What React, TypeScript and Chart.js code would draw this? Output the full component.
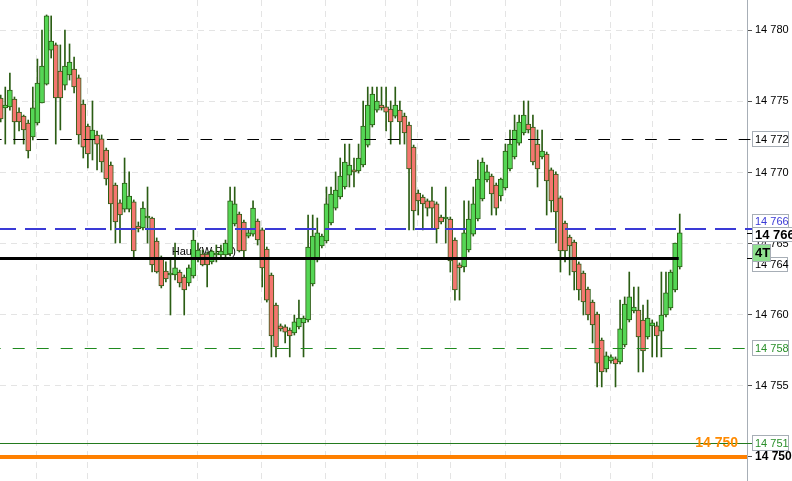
import React, { useEffect, useRef } from "react";
import { Chart, registerables } from "chart.js";

Chart.register(...registerables);

// ---- Data (prices) ----
const opens = [
  14775.24, 14774.54, 14774.61, 14775.17, 14774.25, 14773.97, 14773.48, 14772.50, 14773.48, 14774.89,
  14776.22, 14778.61, 14778.97, 14777.14, 14776.15, 14776.86, 14777.28, 14776.65, 14774.82, 14773.27,
  14772.29, 14772.64, 14772.36, 14771.58, 14770.53, 14769.12, 14767.86, 14767.43, 14767.43, 14767.93,
  14766.24, 14766.10, 14766.80, 14766.80, 14765.18, 14763.92, 14763.07, 14762.79, 14762.79, 14763.00,
  14762.65, 14762.23, 14762.72, 14763.92, 14764.27, 14764.27, 14763.71, 14764.20, 14764.20, 14764.20,
  14764.27, 14766.38, 14767.08, 14766.52, 14765.53, 14765.67, 14766.59, 14765.96, 14764.62, 14762.79,
  14760.68, 14759.21, 14759.14, 14758.92, 14758.71, 14759.14, 14759.42, 14759.63, 14762.16, 14763.85,
  14764.83, 14765.18, 14766.45, 14767.50, 14768.28, 14768.98, 14769.82, 14770.18, 14770.11, 14770.53,
  14771.93, 14773.34, 14774.39, 14774.75, 14774.61, 14774.46, 14773.97, 14774.39, 14773.97, 14773.34,
  14771.79, 14768.56, 14768.28, 14768.00, 14768.00, 14767.79, 14766.87, 14766.73, 14766.73, 14765.25,
  14763.50, 14763.36, 14764.55, 14765.67, 14766.73, 14768.14, 14769.47, 14769.75, 14769.12, 14768.35,
  14768.91, 14770.25, 14771.09, 14772.07, 14772.78, 14773.41, 14773.20, 14772.00, 14771.09, 14771.30,
  14770.18, 14769.89, 14768.21, 14766.45, 14765.46, 14765.11, 14763.57, 14762.93, 14761.81, 14760.89,
  14760.05, 14758.22, 14756.18, 14756.75, 14756.89, 14756.68, 14757.87, 14759.63, 14760.26, 14760.33,
  14759.63, 14758.43, 14759.21, 14759.21, 14758.85, 14759.98, 14760.47, 14761.74, 14763.36,
];

const highs = [
  14775.45, 14776.01, 14777.00, 14775.31, 14774.54, 14774.04, 14773.69, 14776.01, 14777.98, 14780.02,
  14781.08, 14781.01, 14779.11, 14778.97, 14780.02, 14779.04, 14778.12, 14776.86, 14775.10, 14773.41,
  14775.03, 14772.92, 14772.64, 14771.72, 14770.74, 14769.26, 14768.07, 14771.02, 14770.04, 14768.07,
  14766.52, 14767.93, 14768.98, 14766.87, 14765.40, 14764.13, 14763.71, 14763.92, 14765.04, 14763.14,
  14762.79, 14763.50, 14766.03, 14765.04, 14764.55, 14764.41, 14764.55, 14764.90, 14764.90, 14765.25,
  14768.98, 14768.98, 14767.22, 14766.66, 14765.96, 14768.00, 14766.73, 14766.10, 14764.76, 14762.93,
  14760.82, 14759.35, 14759.28, 14759.07, 14759.98, 14761.03, 14759.91, 14767.01, 14767.01, 14766.80,
  14765.67, 14768.98, 14768.98, 14770.04, 14771.02, 14772.00, 14772.00, 14771.02, 14772.00, 14775.03,
  14776.01, 14776.01, 14776.01, 14776.01, 14776.01, 14775.03, 14776.01, 14775.03, 14774.18, 14773.55,
  14771.93, 14768.77, 14768.42, 14768.14, 14768.98, 14767.93, 14767.01, 14768.98, 14766.87, 14765.40,
  14763.64, 14768.00, 14768.00, 14768.98, 14770.88, 14771.02, 14770.53, 14769.89, 14769.26, 14769.61,
  14772.00, 14772.99, 14774.04, 14774.04, 14775.03, 14775.03, 14774.04, 14772.99, 14772.99, 14771.44,
  14770.32, 14770.04, 14768.35, 14766.59, 14765.60, 14765.25, 14763.71, 14763.07, 14761.95, 14761.03,
  14760.19, 14758.36, 14757.38, 14757.17, 14757.03, 14761.03, 14761.25, 14763.00, 14761.95, 14761.95,
  14760.68, 14761.03, 14759.63, 14759.49, 14763.00, 14763.00, 14763.14, 14765.04, 14767.08,
];

const lows = [
  14773.55, 14772.00, 14774.39, 14772.00, 14772.92, 14772.00, 14771.02, 14772.29, 14773.34, 14774.89,
  14776.15, 14778.05, 14772.00, 14772.99, 14775.80, 14776.50, 14775.59, 14772.00, 14771.02, 14770.32,
  14770.88, 14770.18, 14770.04, 14769.12, 14765.96, 14765.04, 14765.04, 14767.22, 14767.22, 14764.06,
  14765.82, 14765.96, 14765.04, 14763.00, 14762.93, 14761.88, 14762.30, 14759.98, 14762.44, 14761.95,
  14759.98, 14762.02, 14762.58, 14763.71, 14763.43, 14761.95, 14763.57, 14763.71, 14763.99, 14763.99,
  14764.13, 14766.24, 14764.41, 14764.06, 14765.40, 14765.53, 14764.90, 14761.95, 14760.89, 14757.03,
  14757.03, 14758.85, 14758.01, 14757.03, 14758.57, 14759.00, 14757.03, 14759.49, 14762.02, 14763.71,
  14764.69, 14765.04, 14766.31, 14767.36, 14768.14, 14768.84, 14768.98, 14768.98, 14769.96, 14770.39,
  14771.79, 14773.20, 14774.25, 14774.39, 14772.92, 14772.00, 14773.83, 14772.00, 14772.00, 14765.96,
  14765.96, 14767.01, 14765.96, 14766.94, 14766.03, 14765.04, 14766.38, 14765.04, 14763.00, 14761.03,
  14761.03, 14763.00, 14764.41, 14765.53, 14766.59, 14768.00, 14769.33, 14767.01, 14767.01, 14768.00,
  14768.77, 14770.11, 14770.95, 14771.93, 14772.64, 14772.78, 14770.53, 14768.98, 14770.95, 14767.01,
  14767.22, 14765.04, 14763.00, 14763.71, 14762.79, 14761.74, 14761.03, 14759.98, 14759.63, 14758.01,
  14754.92, 14754.92, 14755.97, 14756.60, 14754.92, 14756.53, 14757.73, 14759.49, 14760.12, 14755.97,
  14755.97, 14758.29, 14757.03, 14757.03, 14757.03, 14759.84, 14760.33, 14761.60, 14763.21,
];

const closes = [
  14773.76, 14774.75, 14775.80, 14773.55, 14773.55, 14772.99, 14771.51, 14774.54, 14776.29, 14777.49,
  14781.01, 14779.25, 14775.24, 14775.24, 14777.49, 14777.77, 14776.01, 14772.64, 14771.79, 14771.30,
  14772.99, 14772.00, 14770.74, 14769.54, 14767.79, 14766.52, 14767.01, 14769.26, 14768.35, 14764.48,
  14766.03, 14767.50, 14766.80, 14763.50, 14763.00, 14762.02, 14762.51, 14762.79, 14763.29, 14762.23,
  14761.74, 14763.29, 14765.25, 14764.55, 14763.50, 14763.50, 14764.48, 14764.34, 14764.48, 14765.04,
  14768.00, 14767.79, 14764.48, 14764.48, 14765.75, 14767.50, 14765.25, 14763.29, 14761.03, 14758.50,
  14757.73, 14759.00, 14758.78, 14758.50, 14759.49, 14759.77, 14759.77, 14764.76, 14765.53, 14765.75,
  14765.53, 14767.79, 14768.49, 14768.77, 14769.75, 14770.74, 14770.53, 14770.04, 14771.02, 14773.27,
  14774.75, 14775.52, 14775.03, 14774.54, 14774.25, 14773.55, 14774.75, 14773.55, 14772.78, 14770.25,
  14767.29, 14768.00, 14767.79, 14767.50, 14767.50, 14766.03, 14766.52, 14766.73, 14763.78, 14761.74,
  14763.29, 14765.75, 14766.73, 14767.79, 14769.54, 14770.74, 14770.04, 14768.49, 14767.50, 14769.54,
  14771.51, 14772.00, 14772.99, 14773.55, 14774.04, 14772.99, 14770.74, 14770.25, 14771.51, 14769.40,
  14768.00, 14767.22, 14764.48, 14764.48, 14764.83, 14763.00, 14761.74, 14760.89, 14759.98, 14759.28,
  14756.60, 14755.97, 14757.10, 14757.03, 14756.53, 14759.00, 14760.75, 14761.25, 14760.54, 14758.43,
  14757.45, 14759.77, 14759.42, 14758.50, 14759.98, 14761.53, 14763.00, 14765.04, 14765.75,
];

const yTicks = [14750, 14755, 14760, 14765, 14770, 14775, 14780];
const gridX = [7.75, 18.9, 42.85, 56.8, 70.9, 83.85, 90.8, 98, 110, 122.05, 132.9, 142];

const levelPrevHigh = 14763.97;
const levelBlue = 14766.03;
const levelBlackDash = 14772.35;
const levelGreenDash = 14757.65;
const levelThinGreen = 14750.96;
const levelOrange = 14750;
const prevHighLabel = "Haut (W Pre)";
const prevHighLabelAt = 37.27;
const ticksLeftLabel = "4T";

const Y_MIN = 14748.305;
const Y_MAX = 14782.131;
const X_MIN = -0.153;
const X_MAX = 162.66;

// ---- Styles ----
const FONT = "Arial, 'Liberation Sans', sans-serif";
const GREEN = "#55d655";
const RED = "#f4766f";
const EDGE = "#2b5d14";
const GRID = "#e4e4e4";
const BOX_EDGE = "#a7aeb6";

const fmt = (v: number) => {
  const r = Math.round(v);
  return `${Math.floor(r / 1000)} ${String(r % 1000).padStart(3, "0")}`;
};

const crisp = (p: number, w: number) => (w % 2 === 1 ? Math.round(p - 0.5) + 0.5 : Math.round(p));

const levelsPlugin = {
  id: "levels",
  beforeDatasetsDraw(chart: any) {
    const { ctx, scales } = chart;
    const { x, y } = scales;
    ctx.save();
    ctx.font = `11px ${FONT}`;
    ctx.fillStyle = "#000";
    ctx.textBaseline = "alphabetic";
    ctx.textAlign = "left";
    ctx.fillText(prevHighLabel, x.getPixelForValue(prevHighLabelAt), y.getPixelForValue(levelPrevHigh) - 3);
    ctx.restore();
  },
  afterDatasetsDraw(chart: any) {
    const { ctx, chartArea: ca, scales } = chart;
    const { x, y } = scales;
    ctx.save();
    const hline = (price: number, color: string, width: number, dash: number[], offset: number, x1: number, x2: number) => {
      const py = crisp(y.getPixelForValue(price), width);
      ctx.beginPath();
      ctx.setLineDash(dash);
      ctx.lineDashOffset = offset;
      ctx.strokeStyle = color;
      ctx.lineWidth = width;
      ctx.moveTo(x1, py);
      ctx.lineTo(x2, py);
      ctx.stroke();
    };
    const axisEnd = ca.right + 5;
    hline(levelBlackDash, "#000", 1, [11.7, 11.7], 10.1, ca.left, axisEnd);
    hline(levelBlue, "#3a3ad6", 2, [21, 9], 5, ca.left, axisEnd);
    hline(levelGreenDash, "#1f8a1f", 1, [12, 12], 11.3, ca.left, axisEnd);
    hline(levelThinGreen, "#237a1e", 1, [], 0, ca.left, axisEnd);
    hline(levelOrange, "#ff8000", 4, [], 0, ca.left, ca.right);
    hline(levelPrevHigh, "#000", 3, [], 0, ca.left, x.getPixelForValue(closes.length - 1) - 1);
    ctx.setLineDash([]);

    // orange level text
    ctx.font = `bold 14px ${FONT}`;
    ctx.textAlign = "right";
    ctx.textBaseline = "middle";
    ctx.fillStyle = "#ff8a00";
    ctx.fillText(fmt(levelOrange), ca.right - 9, y.getPixelForValue(levelOrange) - 14);
    ctx.restore();
  },
  afterDraw(chart: any) {
    const { ctx, chartArea: ca, scales } = chart;
    const { y } = scales;
    const x1 = ca.right + 5;
    ctx.save();
    const box = (cy: number, h: number, w: number, text: string, color: string, font: string, fill = "#fff") => {
      const top = Math.round(cy - h / 2);
      ctx.fillStyle = fill;
      ctx.fillRect(x1, top, w, h);
      ctx.strokeStyle = BOX_EDGE;
      ctx.lineWidth = 1;
      ctx.strokeRect(x1 + 0.5, top + 0.5, w - 1, h - 1);
      ctx.fillStyle = color;
      ctx.font = font;
      ctx.textAlign = "left";
      ctx.textBaseline = "middle";
      ctx.fillText(text, x1 + 3, top + h / 2 + 0.5);
    };
    const tick = (py: number, color: string) => {
      ctx.strokeStyle = color;
      ctx.lineWidth = 1;
      ctx.beginPath();
      ctx.moveTo(ca.right, crisp(py, 1));
      ctx.lineTo(ca.right + 5, crisp(py, 1));
      ctx.stroke();
    };
    const norm = `11px ${FONT}`;
    box(y.getPixelForValue(levelBlackDash), 16, 37, fmt(levelBlackDash), "#000", norm);
    box(y.getPixelForValue(levelBlue) - 8, 14, 37, fmt(levelBlue), "#3a3ad6", norm);
    const last = closes[closes.length - 1];
    tick(y.getPixelForValue(last) + 1, "#000");
    tick(y.getPixelForValue(levelPrevHigh), "#000");
    box(y.getPixelForValue(levelPrevHigh) + 6, 15, 36, fmt(levelPrevHigh), "#000", norm);
    box(y.getPixelForValue(last) + 2, 15, 50, fmt(last), "#000", `bold 13px ${FONT}`);
    box(y.getPixelForValue(last) + 20, 18, 19, ticksLeftLabel, "#000", `bold 13px ${FONT}`, "#8fe08f");
    box(y.getPixelForValue(levelGreenDash), 16, 37, fmt(levelGreenDash), "#2a8f2a", norm);
    box(y.getPixelForValue(levelThinGreen), 16, 37, fmt(levelThinGreen), "#2a8f2a", norm);
    ctx.restore();
  },
};

export default function App() {
  const ref = useRef<HTMLCanvasElement | null>(null);

  useEffect(() => {
    if (!ref.current) return;
    const bodyData = opens.map((o, i) => ({ x: i, y: [o, closes[i]] }));
    const wickData = highs.map((h, i) => ({ x: i, y: [lows[i], h] }));
    const chart = new Chart(ref.current, {
      type: "bar",
      data: {
        datasets: [
          {
            label: "body",
            data: bodyData as any,
            backgroundColor: (c: any) => (closes[c.dataIndex] >= opens[c.dataIndex] ? GREEN : RED),
            borderColor: EDGE,
            borderWidth: 1,
            borderSkipped: false,
            barThickness: 5,
            minBarLength: 2,
            grouped: false,
            order: 0,
          } as any,
          {
            label: "wick",
            data: wickData as any,
            backgroundColor: EDGE,
            borderWidth: 0,
            barThickness: 1,
            grouped: false,
            order: 1,
          } as any,
        ],
      },
      options: {
        animation: false,
        responsive: false,
        maintainAspectRatio: false,
        devicePixelRatio: 1,
        layout: { padding: 0 },
        plugins: { legend: { display: false }, tooltip: { enabled: false } },
        scales: {
          x: {
            type: "linear",
            min: X_MIN,
            max: X_MAX,
            offset: false,
            grid: { display: true, color: GRID, lineWidth: 1, drawTicks: false, offset: false },
            border: { display: false, dash: [6, 5] },
            ticks: { display: false },
            afterBuildTicks: (s: any) => {
              s.ticks = gridX.map((v) => ({ value: v }));
            },
            afterFit: (s: any) => {
              s.height = 0;
              s.paddingLeft = 0;
              s.paddingRight = 0;
            },
          } as any,
          y: {
            type: "linear",
            position: "right",
            min: Y_MIN,
            max: Y_MAX,
            grid: {
              color: GRID,
              lineWidth: 1,
              drawTicks: true,
              tickLength: 5,
              tickColor: "#505050",
              tickBorderDash: [],
              tickWidth: 1,
            },
            border: { display: true, color: BOX_EDGE, width: 1, dash: [6, 5] },
            ticks: {
              padding: 3,
              color: "#000",
              autoSkip: false,
              font: (c: any) =>
                c.tick && c.tick.value === levelOrange
                  ? { family: FONT, size: 12, weight: "bold" }
                  : { family: FONT, size: 11, weight: "normal" },
              callback: (v: any) => fmt(Number(v)),
            },
            afterBuildTicks: (s: any) => {
              s.ticks = yTicks.map((v) => ({ value: v }));
            },
            afterFit: (s: any) => {
              s.width = 45;
              s.paddingTop = 0;
              s.paddingBottom = 0;
            },
          } as any,
        },
      },
      plugins: [levelsPlugin],
    });
    return () => chart.destroy();
  }, []);

  return (
    <div style={{ position: "fixed", left: 0, top: 0, width: 792, height: 481, background: "#fff" }}>
      <canvas ref={ref} width={792} height={481} style={{ display: "block", width: 792, height: 481 }} />
    </div>
  );
}
